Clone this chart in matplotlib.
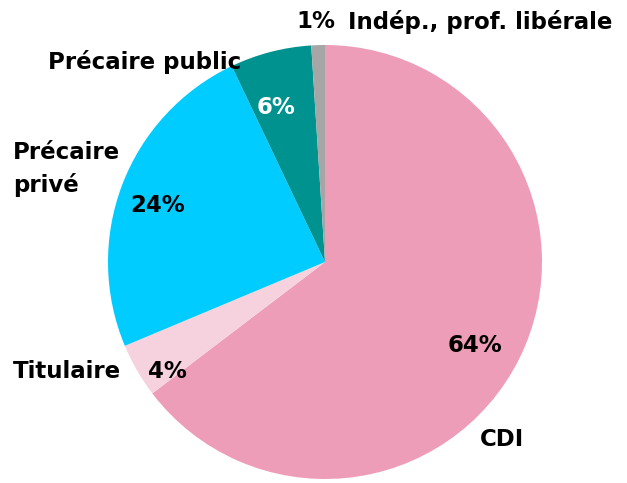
import matplotlib.pyplot as plt

# shares of each status, clockwise from the top
labels = ['CDI', 'Titulaire', 'Précaire privé', 'Précaire public', 'Indép., prof. libérale']
values = [64, 4, 24, 6, 1]
colors = ['#EE9DB8', '#F6D2DE', '#00CCFF', '#00928E', '#A6A6A6']
pct_labels = ['64%', '4%', '24%', '6%', '1%']

fig = plt.figure(figsize=(6.27, 4.83), dpi=100)
ax = fig.add_axes([0, 0, 1, 1])

ax.pie(values, colors=colors, startangle=90, counterclock=False,
       center=(325, 221), radius=217, frame=True)
ax.set_xlim(0, 627)
ax.set_ylim(0, 483)
ax.set_aspect('equal')
ax.axis('off')

font = dict(family='DejaVu Sans', fontweight='bold', fontsize=16.5)

# category names
ax.text(502, 483 - 440, labels[0], ha='center', va='center', **font)
ax.text(13, 483 - 372, labels[1], ha='left', va='center', **font)
ax.text(13, 483 - 169, 'Précaire\nprivé', ha='left', va='center', linespacing=1.45, **font)
ax.text(48, 483 - 62, labels[3], ha='left', va='center', **font)
ax.text(348, 483 - 22, labels[4], ha='left', va='center', **font)

# percentages
ax.text(475, 483 - 345, pct_labels[0], ha='center', va='center', **font)
ax.text(167, 483 - 372, pct_labels[1], ha='center', va='center', **font)
ax.text(158, 483 - 206, pct_labels[2], ha='center', va='center', **font)
ax.text(276, 483 - 107, pct_labels[3], ha='center', va='center', color='white', **font)
ax.text(316, 483 - 22, pct_labels[4], ha='center', va='center', **font)

fig.savefig('out.png', dpi=100)
